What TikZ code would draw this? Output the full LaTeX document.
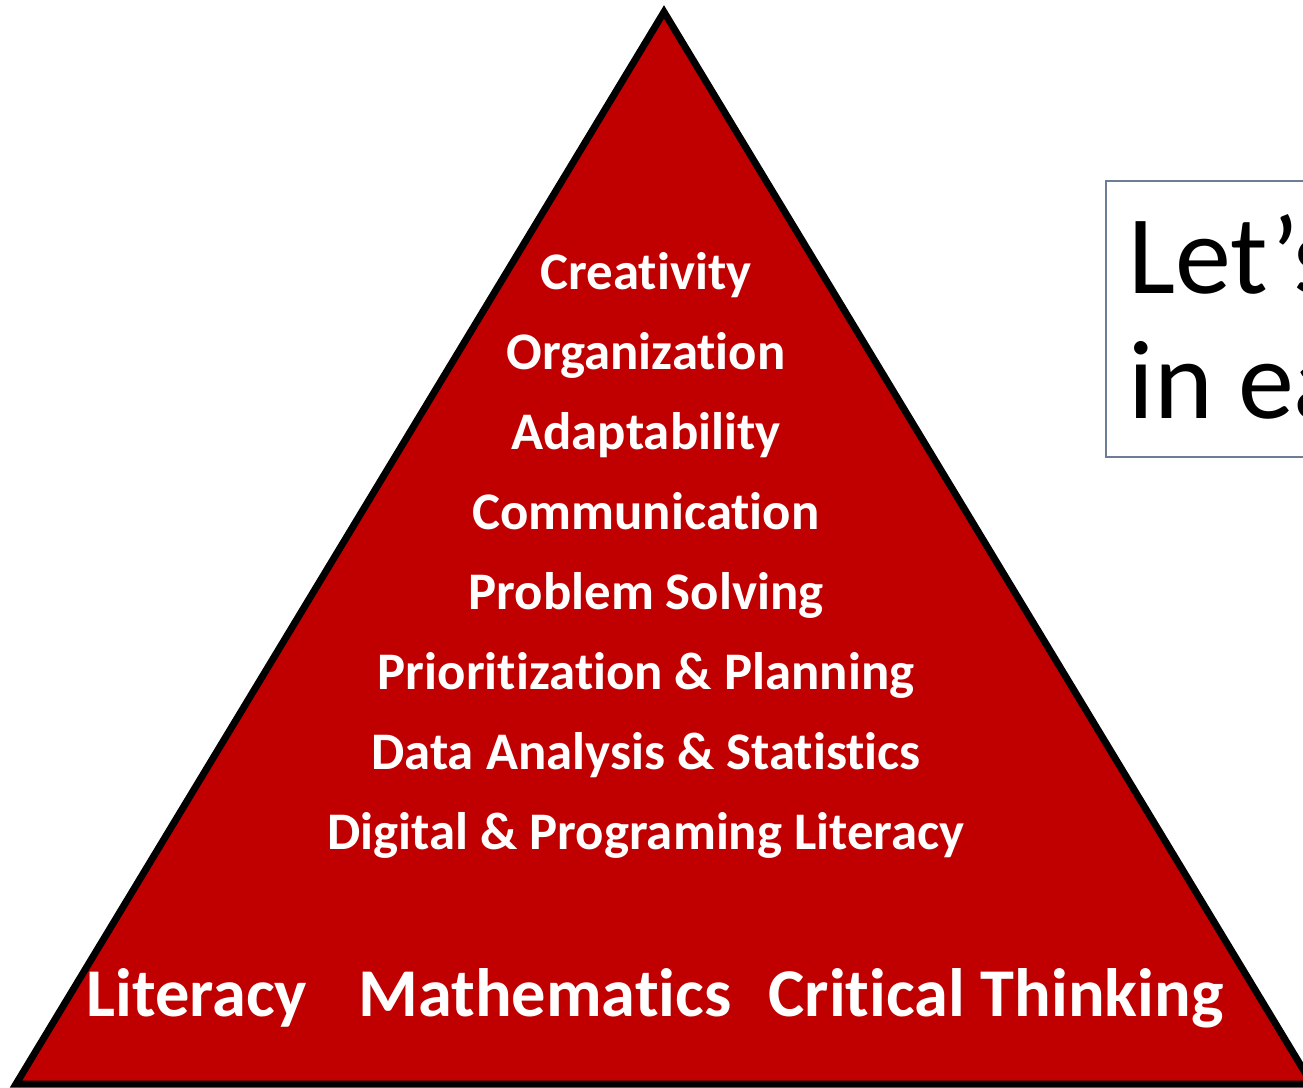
\documentclass[tikz,border=0pt]{standalone}
\usepackage{fontspec}
\setmainfont{Carlito}[Ligatures=NoCommon]
\usetikzlibrary{positioning}

\definecolor{pyrred}{RGB}{192,0,0}
\definecolor{boxline}{RGB}{110,125,150}

\tikzset{
    skill/.style={anchor=base, inner sep=0pt, text=white, font=\fontsize{26.4pt}{30pt}\selectfont\bfseries},
    basic/.style={anchor=base, inner sep=0pt, text=white, font=\fontsize{34.2pt}{40pt}\selectfont\bfseries},
    boxtext/.style={anchor=base west, inner sep=0pt, text=black, font=\fontsize{56pt}{60pt}\selectfont}
}

\begin{document}
\begin{tikzpicture}[x=0.5pt,y=-0.5pt]
    \useasboundingbox (0,0) rectangle (1303,1088);

    % 三角形的三个顶点
    \coordinate (top) at (664,12);
    \coordinate (left) at (16,1084);
    \coordinate (right) at (1312,1084);
    \filldraw[fill=pyrred, draw=black, line width=3.5pt] (top) -- (left) -- (right) -- cycle;

    % 上层技能, 每行相隔 80
    \foreach \word [count=\i] in {Creativity, Organization, Adaptability, Communication,
        Problem Solving, Prioritization \& Planning, Data Analysis \& Statistics,
        Digital \& Programing Literacy}
        \node[skill] (skill\i) at (646,{289+80*(\i-1)}) {\word};

    % 底层基础
    \node[basic] (lit) at (197,1016) {Literacy};
    \node[basic] (math) at (545,1016) {Mathematics};
    \node[basic] (crit) at (996,1016) {Critical Thinking};

    % 右侧文本框 (被图边裁掉)
    \draw[boxline, line width=0.75pt] (1106,181) rectangle (1330,457);
    \node[boxtext] (lets) at (1128,293) {Let’s};
    \node[boxtext] (inea) at (1128,418) {in ea};
\end{tikzpicture}
\end{document}
